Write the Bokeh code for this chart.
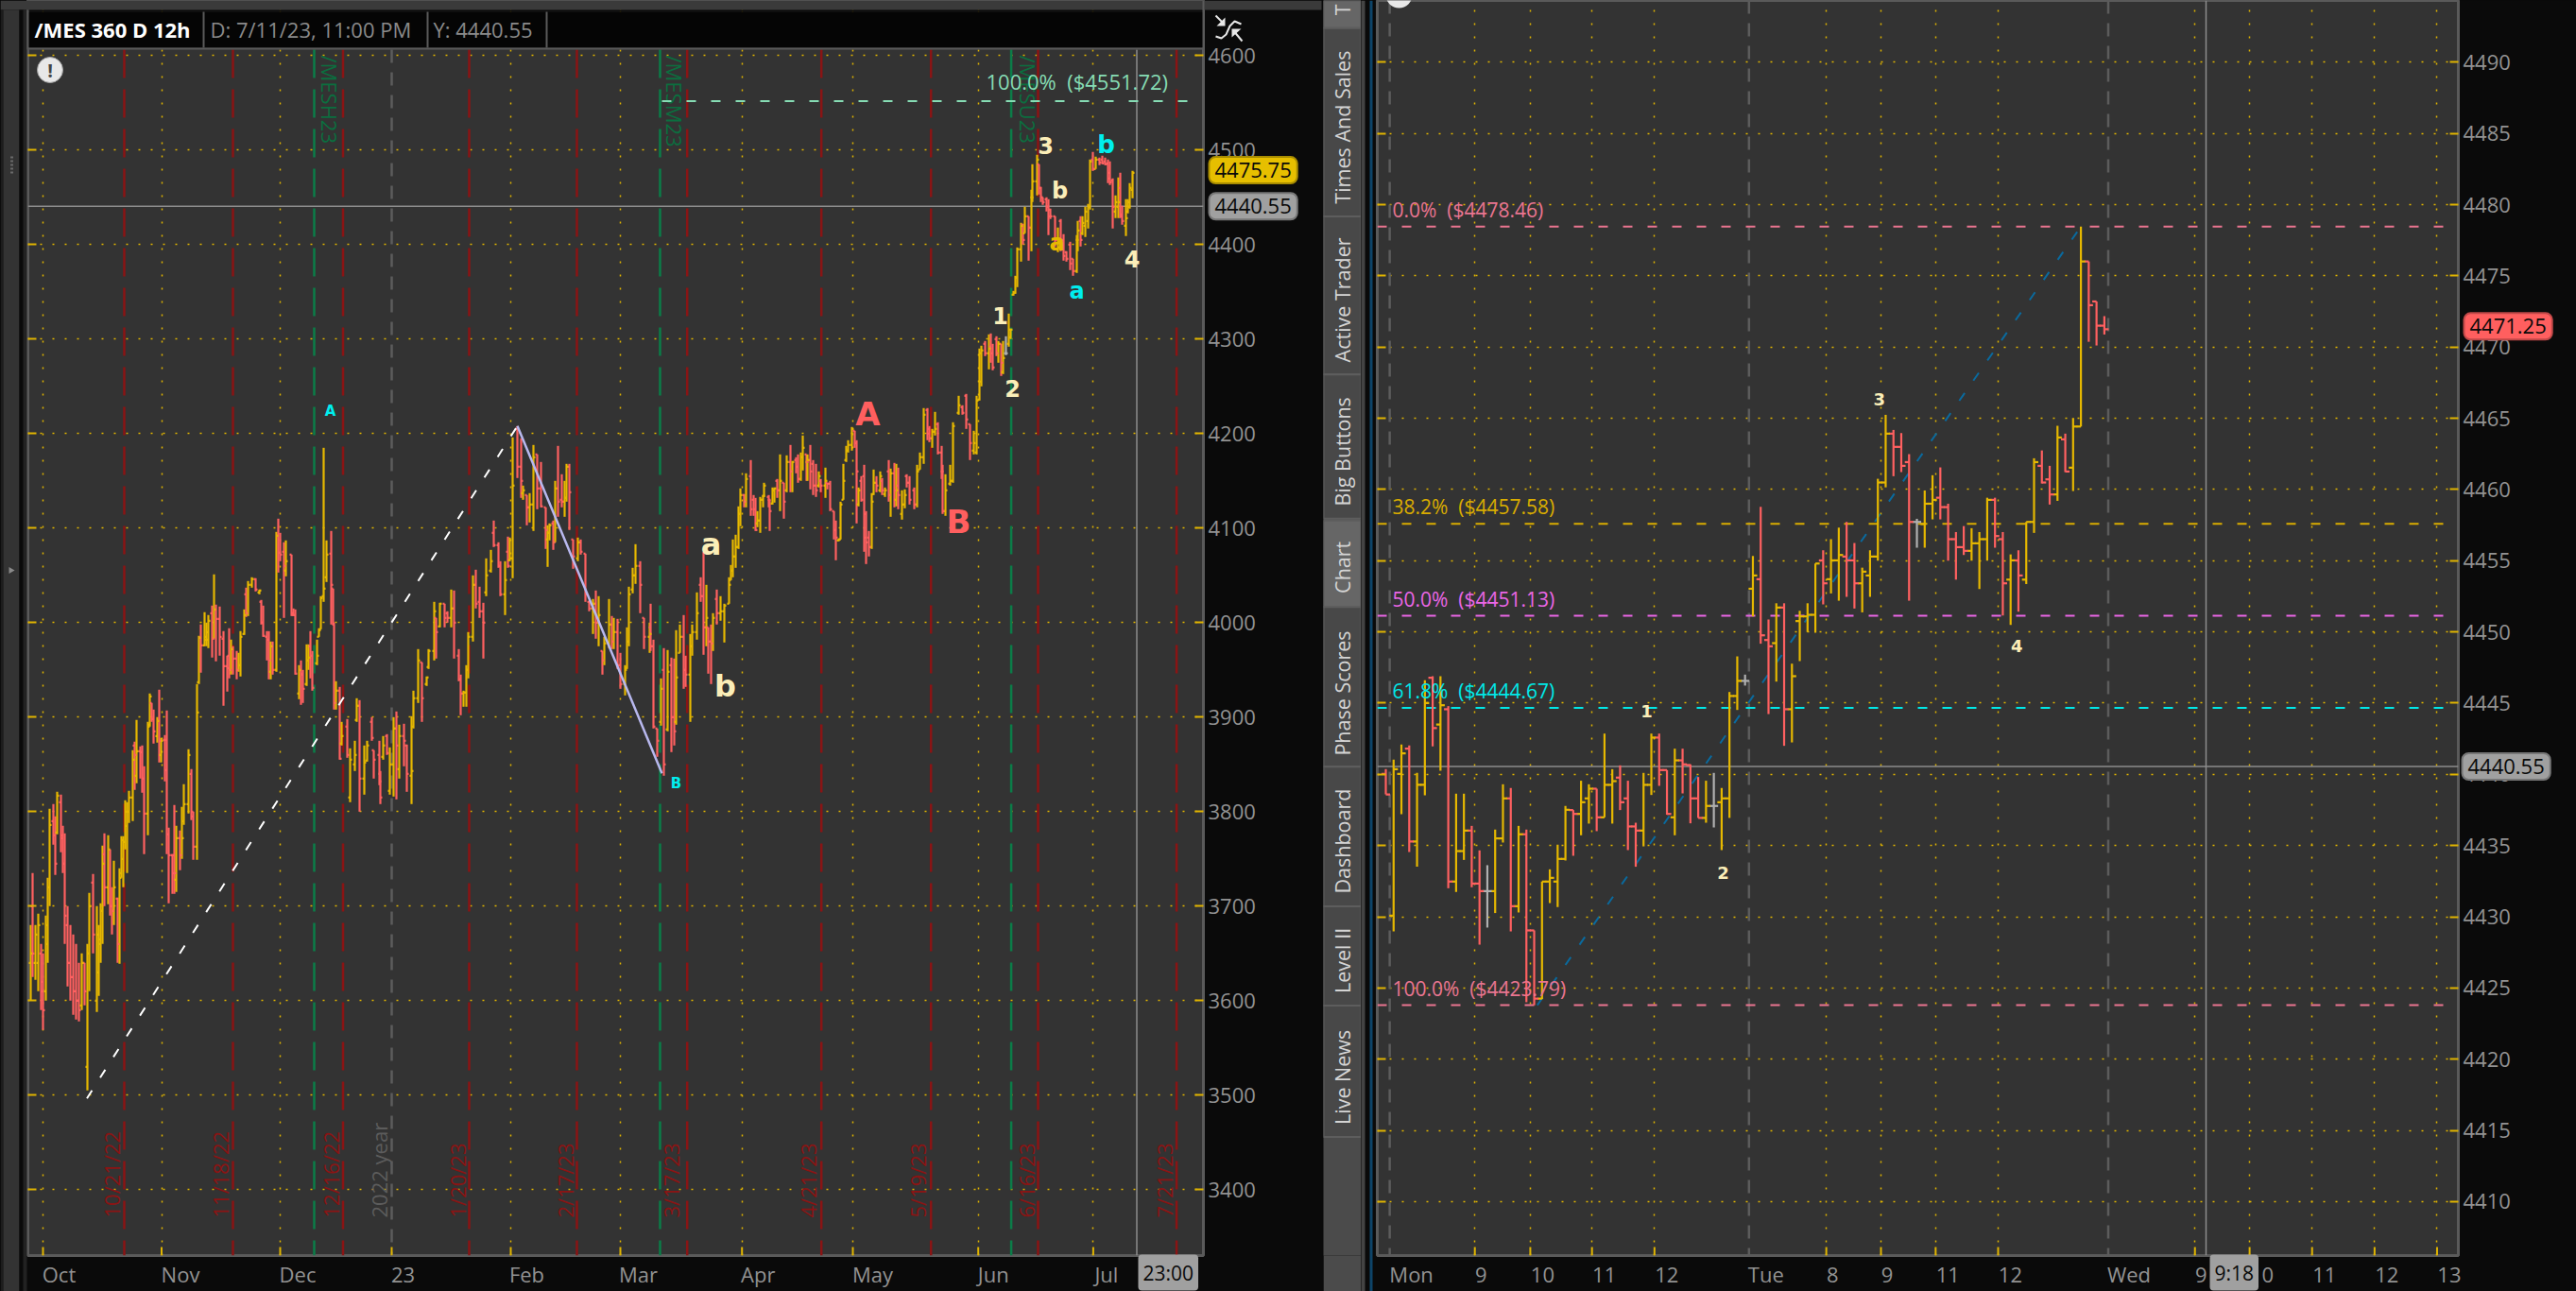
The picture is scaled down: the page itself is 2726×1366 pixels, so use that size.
from math import pi
from bokeh.embed import file_html
from bokeh.resources import INLINE
from bokeh.plotting import figure
from bokeh.layouts import row
from bokeh.models import (FixedTicker, Grid, Label, LinearAxis, Range1d)
from bokeh.core.properties import value

# ---------- left chart: /MES 360 D 12h ----------
left_bar = [
 32,34,37,40,43,45,48,50,52,56,58,60,64,66,68,71,74,77,80,83,
 86,89,92,94,98,102,104,106,108,110,114,116,118,120,124,126,128,130,132,134,
 136,140,142,144,148,150,152,156,158,160,162,166,168,170,174,176,178,182,184,186,
 190,192,194,199,202,204,208,210,212,216,218,220,224,226,228,232,236,240,242,244,
 246,250,252,254,258,260,262,266,270,274,276,278,282,284,286,288,292,294,296,300,
 302,308,310,312,316,318,320,324,326,328,330,335,337,339,342,345,350,352,353,355,
 359,361,367,370,375,377,380,385,388,393,395,401,402,405,409,412,416,419,422,427,
 430,435,437,442,446,451,453,459,461,465,470,473,477,480,485,487,490,493,495,500,
 503,507,511,514,519,522,527,529,534,537,539,542,547,551,553,557,560,564,568,572,
 577,579,581,585,587,590,594,597,599,602,606,611,614,619,623,627,630,633,637,639,
 644,647,649,653,656,661,663,665,669,672,677,681,687,688,691,695,699,702,706,710,
 713,715,719,723,725,730,732,737,741,744,747,749,752,754,758,762,766,771,773,775,
 778,781,783,787,789,794,797,799,801,804,807,808,813,814,817,819,822,825,829,832,
 836,838,842,844,847,849,853,854,857,860,863,866,868,873,875,878,882,884,887,889,
 892,895,897,901,904,906,908,911,914,916,919,922,924,927,931,933,936,940,942,946,
 948,950,954,957,959,962,967,970,973,977,981,983,986,989,992,996,997,1000,1005,1008,
 1014,1018,1022,1026,1030,1033,1036,1038,1042,1046,1048,1050,1054,1056,1059,1061,1064,1067,1069,1072,
 1074,1076,1080,1082,1084,1088,1091,1092,1097,1099,1101,1103,1107,1109,1111,1116,1119,1122,1125,1128,
 1132,1135,1139,1140,1143,1145,1148,1151,1153,1156,1159,1163,1166,1169,1172,1174,1177,1180,1183,1185,
 1187,1191,1193,1195,1198]
left_high = [
 3680,3735,3680,3692,3660,3650,3690,3730,3803,3808,3795,3821,3818,3785,3777,3700,3680,3670,3660,3640,
 3650,3640,3660,3714,3734,3700,3680,3703,3764,3777,3775,3760,3720,3748,3709,3740,3774,3774,3812,3810,
 3822,3865,3874,3897,3869,3870,3848,3895,3925,3915,3908,3900,3929,3878,3881,3907,3783,3755,3807,3785,
 3780,3805,3829,3866,3845,3800,3935,3986,3998,4011,4000,4008,4018,4051,4019,4017,3991,3965,3994,3982,
 3975,3970,3968,3991,4014,4037,4044,4048,4047,4035,4024,4018,3991,3991,3980,3980,4096,4110,4095,4085,
 4087,4072,4015,4014,3955,3960,3950,3977,3977,3991,3970,3982,3994,4028,4185,4087,4097,4036,3998,3938,
 3932,3895,3898,3867,3875,3920,3918,3870,3875,3900,3865,3875,3843,3880,3882,3868,3900,3906,3892,3893,
 3871,3901,3928,3972,3958,3943,3972,4022,4005,4021,4020,4012,4035,4034,3972,3945,3928,3955,3990,4050,
 4056,4038,4021,4068,4077,4108,4085,4065,4065,4091,4090,4196,4208,4195,4145,4135,4137,4188,4178,4170,
 4122,4103,4105,4108,4150,4187,4157,4150,4168,4168,4088,4090,4088,4073,4023,4025,4034,4028,3970,3985,
 4025,4007,4005,4004,3968,3955,3995,4038,4058,4083,4065,4005,4000,4020,3982,3888,3941,3973,3971,3963,
 3962,3992,3998,4008,3965,3988,3998,4032,4048,4075,4040,3995,3998,4010,4035,4028,4020,4048,4061,4088,
 4093,4123,4142,4136,4158,4172,4135,4132,4118,4133,4135,4148,4135,4130,4143,4143,4152,4178,4148,4177,
 4188,4171,4175,4178,4180,4198,4178,4178,4188,4172,4168,4160,4152,4164,4148,4150,4118,4108,4089,4128,
 4168,4187,4193,4207,4203,4193,4143,4155,4167,4118,4097,4137,4162,4155,4160,4153,4143,4172,4163,4169,
 4168,4164,4140,4141,4157,4155,4143,4167,4180,4227,4227,4208,4205,4223,4212,4187,4167,4157,4167,4212,
 4240,4230,4242,4210,4203,4240,4290,4293,4298,4305,4306,4295,4303,4298,4295,4298,4303,4327,4311,4351,
 4367,4397,4423,4422,4440,4430,4458,4485,4495,4485,4461,4450,4450,4448,4438,4430,4418,4427,4411,4393,
 4403,4385,4410,4425,4430,4430,4440,4443,4490,4498,4493,4492,4494,4492,4490,4488,4470,4452,4471,4476,
 4441,4448,4448,4465,4478]
left_low = [
 3600,3625,3622,3610,3590,3569,3600,3640,3700,3765,3733,3776,3757,3735,3660,3615,3600,3585,3580,3578,
 3590,3595,3505,3610,3650,3588,3605,3640,3660,3700,3702,3690,3670,3680,3640,3639,3730,3720,3760,3735,
 3788,3790,3823,3830,3835,3820,3755,3775,3890,3895,3872,3873,3852,3852,3832,3755,3703,3713,3713,3715,
 3738,3750,3786,3798,3791,3749,3749,3935,3947,3975,3975,3973,3963,3983,3959,3965,3912,3927,3941,3945,
 3945,3940,3948,3943,3987,4006,4007,4037,4033,4030,3998,3985,3960,3940,3940,3945,3948,4053,4065,4005,
 4049,4007,4007,3945,3919,3913,3915,3933,3950,3941,3928,3955,3985,3993,4022,4043,3998,3998,3908,3908,
 3855,3870,3857,3810,3843,3895,3800,3818,3853,3875,3835,3828,3808,3855,3860,3818,3816,3813,3835,3848,
 3821,3808,3888,3915,3895,3933,3951,3960,3962,3995,3995,4000,3995,3962,3938,3902,3911,3911,3941,3980,
 4015,4005,3962,4028,4053,4080,4058,4028,4008,4058,4065,4047,4153,4132,4130,4103,4106,4097,4120,4122,
 4078,4059,4087,4077,4085,4112,4122,4112,4128,4098,4057,4065,4072,4022,4012,3988,3983,3975,3945,3955,
 3973,3972,3972,3951,3930,3923,3951,3975,4031,4041,4010,3972,3968,3970,3888,3858,3891,3838,3885,3863,
 3870,3892,3968,3930,3932,3895,3965,3982,4022,3966,3975,3946,3935,3970,3998,4002,3979,4020,4045,4048,
 4058,4078,4102,4122,4122,4113,4113,4097,4101,4095,4122,4133,4122,4097,4125,4127,4132,4118,4110,4138,
 4138,4138,4158,4148,4150,4161,4150,4150,4141,4135,4133,4143,4138,4132,4141,4118,4088,4066,4086,4088,
 4130,4170,4180,4182,4185,4105,4123,4128,4075,4062,4070,4078,4135,4138,4138,4135,4133,4128,4112,4122,
 4123,4120,4109,4121,4143,4125,4120,4122,4162,4168,4193,4191,4185,4198,4178,4152,4115,4113,4145,4148,
 4220,4220,4205,4172,4178,4178,4235,4250,4282,4268,4275,4267,4282,4275,4261,4263,4283,4292,4300,4346,
 4348,4355,4382,4400,4412,4383,4393,4445,4452,4453,4445,4442,4435,4410,4427,4398,4392,4393,4383,4382,
 4373,4367,4370,4393,4398,4410,4408,4417,4437,4478,4480,4484,4485,4484,4465,4463,4417,4428,4428,4428,
 4421,4409,4433,4438,4449]
left_open = [
 3640,3700,3640,3640,3650,3620,3610,3660,3720,3790,3775,3778,3810,3775,3745,3680,3640,3625,3610,3600,
 3595,3640,3530,3650,3725,3600,3630,3660,3695,3755,3720,3760,3700,3695,3708,3660,3735,3750,3768,3785,
 3800,3815,3870,3838,3864,3863,3835,3798,3892,3915,3898,3880,3896,3860,3876,3876,3776,3754,3754,3728,
 3772,3754,3790,3808,3840,3795,3763,3937,3984,3976,3985,3982,4010,3983,4014,4004,3983,3954,3965,3950,
 3972,3962,3950,3955,3988,4030,4010,4040,4046,4032,4022,4000,3985,3982,3948,3975,3950,4092,4074,4075,
 4055,4072,4010,4008,3925,3950,3945,3935,3960,3975,3965,3957,3985,3993,4028,4048,4073,4036,3998,3915,
 3928,3872,3890,3815,3850,3897,3912,3835,3854,3895,3865,3860,3840,3858,3880,3822,3850,3888,3845,3880,
 3870,3838,3890,3920,3958,3935,3953,3970,4005,3996,4020,4010,4005,4015,3965,3940,3925,3926,3950,3985,
 4040,4022,4012,4032,4055,4095,4082,4060,4030,4075,4066,4068,4205,4165,4137,4135,4122,4125,4178,4142,
 4122,4088,4095,4105,4085,4142,4130,4128,4132,4165,4088,4068,4085,4073,4022,4015,4020,4000,3970,3960,
 3978,3998,3980,3990,3955,3935,3952,3980,4035,4050,4060,4005,3985,3995,3975,3888,3895,3950,3887,3955,
 3900,3895,3968,3985,3950,3945,3975,3990,4040,4028,3995,3995,3980,3978,4025,4010,4012,4020,4045,4055,
 4070,4080,4115,4135,4128,4155,4130,4120,4105,4108,4130,4134,4133,4130,4126,4140,4150,4140,4148,4140,
 4170,4160,4172,4165,4152,4175,4178,4170,4172,4168,4145,4145,4150,4145,4148,4147,4118,4098,4087,4088,
 4130,4172,4182,4188,4203,4190,4125,4150,4155,4115,4090,4080,4136,4148,4140,4150,4136,4160,4135,4158,
 4130,4145,4115,4125,4155,4148,4140,4125,4162,4175,4225,4205,4195,4202,4210,4180,4160,4118,4147,4150,
 4222,4228,4240,4210,4182,4180,4236,4255,4295,4285,4292,4285,4300,4285,4295,4265,4285,4295,4302,4347,
 4349,4365,4395,4421,4412,4430,4418,4450,4467,4485,4460,4450,4448,4440,4437,4430,4395,4425,4405,4392,
 4400,4385,4372,4405,4425,4412,4420,4425,4440,4490,4480,4490,4490,4488,4486,4476,4468,4435,4440,4460,
 4432,4420,4435,4440,4458]
left_close = [
 3650,3650,3670,3680,3610,3590,3680,3720,3786,3775,3745,3817,3772,3745,3690,3640,3625,3610,3600,3590,
 3640,3610,3650,3700,3670,3670,3665,3695,3745,3720,3760,3700,3695,3720,3660,3730,3770,3768,3800,3800,
 3815,3855,3860,3864,3863,3835,3798,3890,3922,3898,3885,3896,3875,3875,3844,3776,3754,3735,3735,3772,
 3754,3772,3808,3860,3800,3763,3905,3984,3976,3982,3990,4002,3983,4014,4004,3985,3954,3952,3950,3972,
 3962,3950,3955,3985,4008,4010,4040,4046,4035,4034,4000,3986,3982,3960,3975,3950,4092,4074,4072,4060,
 4065,4008,4008,3946,3950,3946,3930,3960,3963,3965,3931,3965,3992,4026,4036,4072,4040,3999,3915,3928,
 3856,3880,3860,3855,3860,3912,3835,3852,3870,3878,3855,3832,3815,3870,3862,3850,3888,3870,3880,3875,
 3840,3843,3920,3960,3920,3942,3970,4012,3990,4020,4005,4005,4015,4000,3940,3925,3926,3950,3985,4040,
 4020,4012,4000,4050,4065,4082,4060,4030,4045,4060,4068,4145,4165,4150,4140,4122,4125,4175,4142,4123,
 4098,4095,4103,4085,4142,4128,4128,4132,4165,4138,4070,4085,4075,4030,4015,4020,4000,4008,3960,3978,
 3998,3980,3990,3955,3935,3950,3980,4030,4050,4060,4040,3985,3988,3975,3890,3875,3930,3850,3948,3900,
 3885,3942,3985,3950,3945,3975,3990,4010,4028,3995,4005,3980,3978,4005,4010,4012,4018,4040,4055,4070,
 4080,4115,4135,4128,4152,4120,4120,4098,4108,4130,4134,4145,4130,4118,4140,4142,4140,4150,4128,4170,
 4160,4170,4165,4152,4175,4185,4170,4172,4160,4145,4140,4155,4145,4150,4147,4120,4098,4090,4088,4125,
 4150,4182,4188,4205,4190,4160,4140,4130,4090,4085,4080,4128,4148,4145,4155,4140,4140,4135,4158,4140,
 4140,4135,4125,4135,4148,4130,4125,4160,4175,4220,4200,4195,4202,4205,4180,4160,4118,4140,4150,4208,
 4230,4222,4215,4190,4190,4235,4285,4288,4285,4290,4285,4270,4285,4295,4275,4280,4285,4310,4310,4349,
 4365,4395,4420,4405,4430,4418,4450,4467,4490,4460,4450,4445,4440,4430,4430,4405,4403,4400,4388,4385,
 4380,4372,4405,4415,4405,4423,4435,4440,4488,4480,4490,4487,4486,4485,4470,4466,4440,4445,4445,4430,
 4425,4428,4445,4460,4476]

left_months = ["Oct","Nov","Dec","23","Feb","Mar","Apr","May","Jun","Jul"]
left_month_at = [45,170.5,296,414,540,656,784.7,902,1034.7,1156.4]
left_month_w = [34,40,37,24,34,38,34,42,32,28]
left_grid_at = [45,170.5,296,540,656,784.7,902,1034.7,1156.4]
left_price_ticks = [3400,3500,3600,3700,3800,3900,4000,4100,4200,4300,4400,4500,4600]
left_expiry_red = [131,246,362.5,496,610,726.7,868.7,984.7,1098,1244.6]
left_roll_green = [332,698,1069.6]
left_year_line = [414]
left_date_text = ["10/21/22","11/18/22","12/16/22","1/20/23","2/17/23","3/17/23","4/21/23","5/19/23","6/16/23","7/21/23"]
left_date_at = [117,232,349,483,597,709,854,970,1085,1231]
left_roll_text = ["/MESH23","/MESM23","/MESU23"]
left_roll_at = [348,713,1087]
wave_text = ["A","B","a","b","A","B","1","2","3","b","a","a","b","4"]
wave_x = [349,715,752,767,918,1014,1058,1071,1106,1121,1118,1139,1170,1197.5]
wave_price = [4224,3830,4083,3933,4221,4107,4325,4248,4505,4457,4402,4351,4506,4385]
wave_color = ["#00eeee","#00eeee","#fbeeb8","#fbeeb8","#ff5f5f","#ff5f5f","#fbeeb8","#fbeeb8","#fbeeb8","#fbeeb8","#e6b800","#00eeee","#00eeee","#fbeeb8"]
wave_size = ["15px","15px","32px","32px","34px","34px","24px","24px","24px","24px","24px","24px","26px","24px"]
left_fib_x = [91.5,547]
left_fib_price = [3496.6,4208]
left_down_x = [547,700]
left_down_price = [4208,3840.6]
target_price = 4551.72
cross_price = 4440.55
last_left = 4475.75

# ---------- right chart: intraday ----------
right_high = [4440.36,4441.03,4442.09,4442.02,4440.10,4446.60,4446.89,4446.89,4444.79,4438.64,4438.64,4436.38,4434.66,4433.62,4436.12,4439.30,4439.04,4436.38,4436.12,4429.04,
 4432.47,4433.33,4435.06,4437.78,4437.49,4439.55,4439.30,4438.99,4442.86,4440.36,4440.63,4439.55,4436.60,4440.10,4442.86,4442.86,4440.30,4441.80,4441.80,4440.70,
 4439.81,4439.55,4440.10,4439.04,4445.78,4448.28,4447.00,4455.33,4458.78,4450.87,4452.01,4452.01,4447.77,4451.48,4452.01,4454.80,4455.73,4456.51,4457.32,4457.72,
 4456.24,4454.51,4455.73,4460.75,4465.24,4464.18,4463.96,4462.48,4457.94,4459.93,4461.00,4461.55,4459.00,4457.01,4457.43,4457.28,4457.01,4459.42,4459.42,4457.01,
 4455.44,4455.73,4457.72,4462.19,4462.74,4461.66,4464.47,4463.92,4465.02,4478.46,4476.01,4473.20,4472.17]
right_low = [4438.59,4428.97,4437.20,4434.55,4433.51,4438.53,4441.96,4440.25,4432.00,4431.74,4433.99,4432.07,4428.04,4429.24,4430.26,4435.21,4428.97,4430.30,4424.00,4423.79,
 4424.22,4430.96,4430.68,4433.95,4434.28,4435.72,4436.54,4436.01,4436.98,4436.54,4437.49,4434.68,4433.51,4434.94,4438.55,4439.19,4437.16,4435.72,4438.66,4436.56,
 4436.94,4436.60,4436.27,4434.68,4436.94,4444.52,4446.23,4451.09,4449.17,4444.23,4446.51,4442.00,4442.24,4447.95,4449.99,4449.94,4451.93,4452.70,4452.19,4452.46,
 4451.64,4451.37,4452.46,4455.00,4460.15,4460.93,4461.22,4452.19,4455.91,4455.91,4457.90,4457.90,4455.00,4453.67,4455.40,4455.00,4453.01,4455.00,4455.91,4451.15,
 4450.49,4451.42,4453.36,4456.95,4460.42,4458.94,4459.20,4461.22,4459.89,4464.42,4470.37,4470.11,4470.88]
right_open = [4440.03,4430.08,4440.03,4441.80,4435.28,4439.26,4446.78,4443.50,4444.57,4432.47,4434.61,4436.05,4432.33,4431.80,4431.80,4435.50,4438.31,4430.74,4435.79,4429.04,
 4424.25,4432.47,4432.47,4434.06,4437.49,4437.22,4438.31,4438.99,4436.98,4439.26,4439.77,4438.31,4436.34,4436.05,4439.26,4442.58,4440.30,4436.98,4440.98,4440.65,
 4438.31,4436.94,4437.78,4438.04,4438.31,4445.50,4446.56,4453.03,4453.70,4449.43,4449.21,4451.71,4444.57,4450.76,4451.09,4451.20,4455.02,4453.70,4455.02,4455.29,
 4455.02,4453.41,4453.96,4455.29,4460.49,4463.92,4462.99,4461.92,4457.72,4457.57,4459.00,4459.42,4458.76,4456.51,4455.95,4455.69,4456.22,4456.51,4459.27,4456.51,
 4453.67,4455.02,4453.67,4457.72,4461.66,4460.71,4459.65,4463.52,4461.53,4464.42,4476.01,4473.20,4471.50]
right_close = [4438.59,4440.36,4441.47,4435.28,4439.26,4445.01,4443.24,4444.85,4432.47,4434.61,4436.05,4432.33,4431.80,4431.80,4435.50,4438.31,4430.74,4435.79,4429.04,4424.25,
 4432.47,4432.73,4434.06,4437.51,4437.22,4438.04,4438.99,4436.98,4439.26,4439.52,4438.04,4436.34,4436.05,4439.26,4442.58,4440.30,4437.22,4440.98,4440.70,4438.31,
 4436.94,4437.78,4437.78,4438.31,4445.50,4446.56,4446.56,4453.96,4449.76,4448.99,4451.71,4444.57,4446.89,4451.09,4451.20,4454.80,4453.41,4455.02,4455.40,4455.02,
 4453.41,4454.23,4455.29,4460.49,4463.92,4462.99,4461.66,4457.72,4457.72,4459.00,4459.27,4458.76,4456.51,4455.95,4455.69,4456.22,4456.51,4459.27,4456.73,4453.41,
 4455.02,4453.96,4457.72,4461.92,4460.49,4459.65,4463.65,4461.26,4464.42,4476.01,4472.94,4471.50,4471.25]

right_fib_text = ["0.0%\u00a0\u00a0($4478.46)","38.2%\u00a0\u00a0($4457.58)","50.0%\u00a0\u00a0($4451.13)","61.8%\u00a0\u00a0($4444.67)","100.0%\u00a0\u00a0($4423.79)"]
right_fib_price = [4478.46,4457.58,4451.13,4444.67,4423.79]
right_fib_color = ["#ea7590","#d9ac00","#ea66e6","#00e8e8","#ea7590"]
right_tick_at = [0.5,11.4,18.5,26.4,34.4,46.5,56.4,63.4,70.4,78.4,92.5,103.6,110.6,118.6,126.6,134.6]
right_tick_text = ["Mon","9","10","11","12","Tue","8","9","11","12","Wed","9","10","11","12","13"]
right_tick_w = [46,13,26,26,26,36,13,13,26,26,44,13,26,26,26,26]
right_session_at = [0.5,46.5,92.5]
right_grid_at = [11.4,18.5,26.4,34.4,56.4,63.4,70.4,78.4,103.6,110.6,118.6,126.6,134.6]
right_price_ticks = [4410,4415,4420,4425,4430,4435,4440,4445,4450,4455,4460,4465,4470,4475,4480,4485,4490]
right_wave_text = ["1","2","3","4"]
right_wave_i = [33.4,43.2,63.2,80.8]
right_wave_price = [4444.4,4433.1,4466.3,4449.0]
right_fib_i = [19.4,89]
right_fib_line = [4423.79,4478.46]
last_right = 4471.25

# ---------- tabs ----------
tab_text = ["T","Times And Sales","Active Trader","Big Buttons","Chart","Phase Scores","Dashboard","Level II","Live News"]
tab_top = [0,30,235,407,566,660,834,986,1094]
tab_bottom = [30,235,407,564,660,834,986,1094,1237]
tab_mid = [10,138,326,491,617,754,915,1045,1172]

# ---------- style ----------
BG = "#333333"; BLACK = "#0a0a0a"; YEL = "#e6b800"; RED = "#ff6060"; GRAY = "#b0b0b0"
DOT = "#e0b400"; FONT = "Open Sans"; AXISC = "#929292"; EDGE = "#5a5a5a"

def bar_color(o, c):
    return GRAY if o == c else (YEL if c > o else RED)

def draw_bars(p, xs, h, l, o, c, half, width):
    cols = [bar_color(a, b) for a, b in zip(o, c)]
    p.segment(xs, l, xs, h, line_color=cols, line_width=width)
    p.segment([x - half for x in xs], o, xs, o, line_color=cols, line_width=width)
    p.segment(xs, c, [x + half for x in xs], c, line_color=cols, line_width=width)

def dress(p, price_ticks, label_at, label_text):
    p.background_fill_color = BG
    p.border_fill_color = BLACK
    p.outline_line_color = EDGE
    p.outline_line_width = 3
    p.grid.visible = False
    ax = p.xaxis[0]
    ax.ticker = FixedTicker(ticks=label_at)
    ax.major_label_overrides = dict(zip(label_at, label_text))
    ax.major_tick_line_color = None
    ax.major_tick_out = 0
    ax.major_tick_in = 0
    ax.minor_tick_line_color = None
    ax.axis_line_color = None
    ax.major_label_standoff = 4
    ax.major_label_text_color = AXISC
    ax.major_label_text_font = FONT
    ax.major_label_text_font_size = "22px"
    ay = p.yaxis[0]
    ay.ticker = FixedTicker(ticks=price_ticks)
    ay.major_tick_in = 9; ay.major_tick_out = 0
    ay.major_tick_line_color = DOT; ay.major_tick_line_width = 2
    ay.minor_tick_line_color = None
    ay.axis_line_color = None
    ay.major_label_standoff = 5
    ay.major_label_text_color = AXISC
    ay.major_label_text_font = FONT
    ay.major_label_text_font_size = "22px"
    al = LinearAxis(ticker=FixedTicker(ticks=price_ticks), major_label_text_font_size="1px",
                    major_label_text_color=None, major_tick_in=9, major_tick_out=0, major_tick_line_color=DOT,
                    major_tick_line_width=2, minor_tick_line_color=None, axis_line_color=None, major_label_standoff=0)
    p.add_layout(al, "left")

def dotted_grid(p, xt, yt):
    p.add_layout(Grid(dimension=0, ticker=FixedTicker(ticks=xt), grid_line_color=DOT, grid_line_width=1.5, grid_line_dash="2 12"))
    p.add_layout(Grid(dimension=1, ticker=FixedTicker(ticks=yt), grid_line_color=DOT, grid_line_width=1.5, grid_line_dash="2 11"))

def verticals(p, xs, bot, top, color, dash, width=2.5):
    p.segment(xs, [top] * len(xs), xs, [bot] * len(xs), line_color=color, line_width=width, line_dash=dash)

# ---------- left figure ----------
L_X0, L_X1 = 29, 1273
L_FRAME_TOP = 4658.3
L_TOP = 4658.3 - 52
L_BOT = 4658.3 - 1328

left_label_at = [a + w / 2 for a, w in zip(left_month_at, left_month_w)]
pl = figure(width=1400, height=1366, frame_width=L_X1 - L_X0, frame_height=1328,
            x_range=Range1d(L_X0, L_X1), y_range=Range1d(L_BOT, L_FRAME_TOP), y_axis_location="right",
            min_border_left=29, min_border_right=127, min_border_top=0, min_border_bottom=38,
            toolbar_location=None, output_backend="svg")
dress(pl, left_price_ticks, left_label_at, left_months)
dotted_grid(pl, left_grid_at, left_price_ticks)

verticals(pl, left_expiry_red, L_BOT, L_TOP, "#8a1414", "30 12", 2.5)
verticals(pl, left_roll_green, L_BOT, L_TOP, "#0b7d48", "30 12", 2.5)
verticals(pl, left_year_line, L_BOT, L_TOP, "#5c5c5c", "14 10", 2.5)
pl.segment(left_month_at, [L_BOT] * 10, left_month_at, [L_BOT + 9] * 10, line_color=DOT, line_width=2)

pl.text(left_date_at, [L_BOT + 40] * 10, left_date_text, angle=pi / 2, text_color="#8a1414", text_font=value(FONT),
        text_font_size="22px", text_align="left", text_baseline="middle")
pl.text([400], [L_BOT + 40], ["2022 year"], angle=pi / 2, text_color="#5c5c5c", text_font=value(FONT),
        text_font_size="22px", text_align="left", text_baseline="middle")
pl.text(left_roll_at, [L_TOP - 6] * 3, left_roll_text, angle=-pi / 2, text_color="#0b6e3f", text_font=value(FONT),
        text_font_size="22px", text_align="left", text_baseline="middle")

pl.segment([L_X0], [cross_price], [L_X1], [cross_price], line_color="#8c8c8c", line_width=1.5)
pl.segment([1202.5], [L_BOT], [1202.5], [L_TOP], line_color="#8c8c8c", line_width=1.5)

draw_bars(pl, left_bar, left_high, left_low, left_open, left_close, 2, 2.2)

pl.segment([700], [target_price], [1257], [target_price], line_color="#86dcb4", line_width=2, line_dash="10 16")
pl.text([1043], [target_price + 6], ["100.0%\u00a0\u00a0($4551.72)"], text_color="#86dcb4", text_font=value(FONT),
        text_font_size="22px", text_baseline="bottom")
pl.line(left_fib_x, left_fib_price, line_color="#ffffff", line_width=2, line_dash="10 16")
pl.line(left_down_x, left_down_price, line_color="#b8b8ee", line_width=2.5)
pl.text(wave_x, wave_price, wave_text, text_color=wave_color, text_font=value("DejaVu Sans"), text_font_style="bold",
        text_font_size=wave_size, text_align="center", text_baseline="middle")

# ---------- tab strip ----------
pt = figure(width=40, height=1366, x_range=Range1d(0, 40), y_range=Range1d(1366, 0), toolbar_location=None,
            output_backend="svg", min_border=0)
pt.axis.visible = False
pt.grid.visible = False
pt.outline_line_color = None
pt.background_fill_color = "#4b4b4b"
pt.border_fill_color = "#4b4b4b"
tab_fill = ["#666666" if t in ("T", "Chart") else "#484848" for t in tab_text]
pt.quad(left=0, right=40, top=tab_top, bottom=tab_bottom, fill_color=tab_fill, line_color="#5d5d5d", line_width=2)
pt.text([20] * len(tab_text), tab_mid, tab_text, angle=pi / 2,
        text_color="#d4d4d4", text_font=value(FONT), text_font_size="21.5px", text_align="center", text_baseline="middle")

# ---------- right figure ----------
R_X0, R_X1 = 1457, 2601
R_PX = 8.265
R_I0 = (R_X0 - 1466) / R_PX
R_I1 = (R_X1 - 1466) / R_PX
R_TOP = 4480 + 216 / 15.07
R_BOT = 4480 - (1328 - 216) / 15.07

right_i = list(range(len(right_high)))
right_label_at = [round(a + w / 2 / R_PX, 2) for a, w in zip(right_tick_at, right_tick_w)]
pr = figure(width=1286, height=1366, frame_width=R_X1 - R_X0, frame_height=1328,
            x_range=Range1d(R_I0, R_I1), y_range=Range1d(R_BOT, R_TOP), y_axis_location="right",
            min_border_left=17, min_border_right=125, min_border_top=0, min_border_bottom=38,
            toolbar_location=None, output_backend="svg")
dress(pr, right_price_ticks, right_label_at, right_tick_text)
dotted_grid(pr, right_grid_at, right_price_ticks)
verticals(pr, right_session_at, R_BOT, R_TOP, "#5c5c5c", "14 10", 2.5)
pr.segment(right_grid_at, [R_BOT] * len(right_grid_at), right_grid_at, [R_BOT + 0.6] * len(right_grid_at), line_color=DOT, line_width=2)

pr.segment([R_I0], [cross_price], [R_I1], [cross_price], line_color="#8c8c8c", line_width=1.5)
cross_i = (2334 - 1466) / R_PX
pr.segment([cross_i], [R_BOT], [cross_i], [R_TOP], line_color="#8c8c8c", line_width=1.5)

dash_x1 = (2585 - 1466) / R_PX
pr.segment([R_I0] * 5, right_fib_price, [dash_x1] * 5, right_fib_price, line_color=right_fib_color, line_width=2, line_dash="10 16")
pr.line(right_fib_i, right_fib_line, line_color="#0a6a9e", line_width=2, line_dash="10 16")
draw_bars(pr, right_i, right_high, right_low, right_open, right_close, 0.55, 2.2)
pr.text([(1473 - 1466) / R_PX] * 5, right_fib_price, right_fib_text, y_offset=-4, text_color=right_fib_color,
        text_font=value(FONT), text_font_size="21px", text_baseline="bottom")
pr.text(right_wave_i, right_wave_price, right_wave_text, text_color="#fbeeb8", text_font=value("DejaVu Sans"),
        text_font_style="bold", text_font_size="18px", text_align="center", text_baseline="middle")

# ---------- window furniture, drawn over the charts ----------
ov = figure(width=2726, height=1366, x_range=Range1d(0, 2726), y_range=Range1d(1366, 0), toolbar_location=None,
            output_backend="svg", min_border=0, css_classes=["window-layer"])
ov.axis.visible = False
ov.grid.visible = False
ov.outline_line_color = None
ov.background_fill_alpha = 0
ov.border_fill_alpha = 0

def box(x0, y0, x1, y1, color):
    ov.quad(left=x0, right=x1, top=y0, bottom=y1, fill_color=color, line_color=None)

def label(x, y, s, color, size, style="normal"):
    ov.text([x], [y], [s], text_color=color, text_font=value(FONT), text_font_size=size, text_font_style=style,
            text_align="left", text_baseline="middle")

def badge(x, y, s, color, border):
    ov.add_layout(Label(x=x, y=y, text=s, text_color="#0a0a0a", text_font=FONT, text_font_size="22px",
                        text_align="left", text_baseline="middle", background_fill_color=color,
                        border_line_color=border, border_line_width=2, padding=6, border_radius=7))

box(0, 0, 1398, 10, "#3a3a3a")
box(0, 10, 3, 1366, "#1c1c1c")
box(3, 10, 20, 1366, "#333333")
box(20, 10, 24, 1366, "#0a0a0a")
box(24, 10, 28, 1366, "#222222")
box(29, 10, 1273, 12, "#0a0a0a")
box(29, 12, 1273, 50, "#050505")
box(29, 50, 1273, 52, EDGE)
box(28, 10, 30, 52, EDGE)
box(1272, 0, 1274, 52, EDGE)
for x in (214, 451, 577):
    box(x, 12, x + 2, 50, EDGE)
label(36, 30, "/MES 360 D 12h", "#ffffff", "22px", "bold")
label(222, 30, "D: 7/11/23, 11:00 PM", "#8a8a8a", "22px")
label(458, 30, "Y: 4440.55", "#8a8a8a", "22px")

ov.scatter([52.5], [73.5], size=27, marker="circle", fill_color="#e8e8e8", line_color="#a0a0a0", line_width=1)
ov.text([52.5], [73.5], ["!"], text_color="#444444", text_font=value(FONT), text_font_size="20px", text_font_style="bold",
        text_align="center", text_baseline="middle")
ov.scatter([1480], [-6], size=28, marker="circle", fill_color="#e8e8e8", line_color=None)

ov.line([1286, 1292, 1297, 1301, 1306, 1313], [38, 40, 36, 27, 22, 25], line_color="#e8e8e8", line_width=2)
ov.patches([[1296, 1296, 1287], [1303, 1303, 1313]], [[27, 18, 27], [30, 39, 30]], fill_color="#e8e8e8", line_color=None)
ov.segment([1286, 1304], [16, 31], [1294, 1314], [24, 43], line_color="#e8e8e8", line_width=2)

box(1440, 0, 1444, 1366, "#444444")
box(1449, 0, 1452, 1366, "#0d4468")
ov.segment([12], [165], [12], [183], line_color="#6a6a6a", line_width=3, line_dash="2 2")
ov.scatter([11], [603], size=7, marker="triangle", angle=-pi / 2, fill_color="#8a8a8a", line_color=None)

badge(1279, 155.3 + (4500 - last_left), "4475.75", "#e6bf00", "#a88c00")
badge(1279, 158.3 + (4500 - cross_price), "4440.55", "#a0a0a0", "#777777")
badge(2607, 213 + (4480 - last_right) * 15.07, "4471.25", "#ff5f5f", "#c04848")
badge(2605, 216 + (4480 - cross_price) * 15.07, "4440.55", "#a0a0a0", "#777777")
for bx, bt in ((1204, "23:00"), (2338, "9:18")):
    ov.add_layout(Label(x=bx, y=1346, text=bt, text_color="#0a0a0a", text_font=FONT, text_font_size="21px",
                        text_baseline="middle", background_fill_color="#a0a0a0", padding=5, border_radius=4))

page = row(pl, pt, pr, spacing=0)
html = file_html([page, ov], INLINE)
html = html.replace("</head>", "<style>html,body{background:#0a0a0a;overflow:hidden}"
                    ".window-layer{position:absolute!important;left:0;top:0}</style></head>", 1)
open("out.html", "w").write(html)
